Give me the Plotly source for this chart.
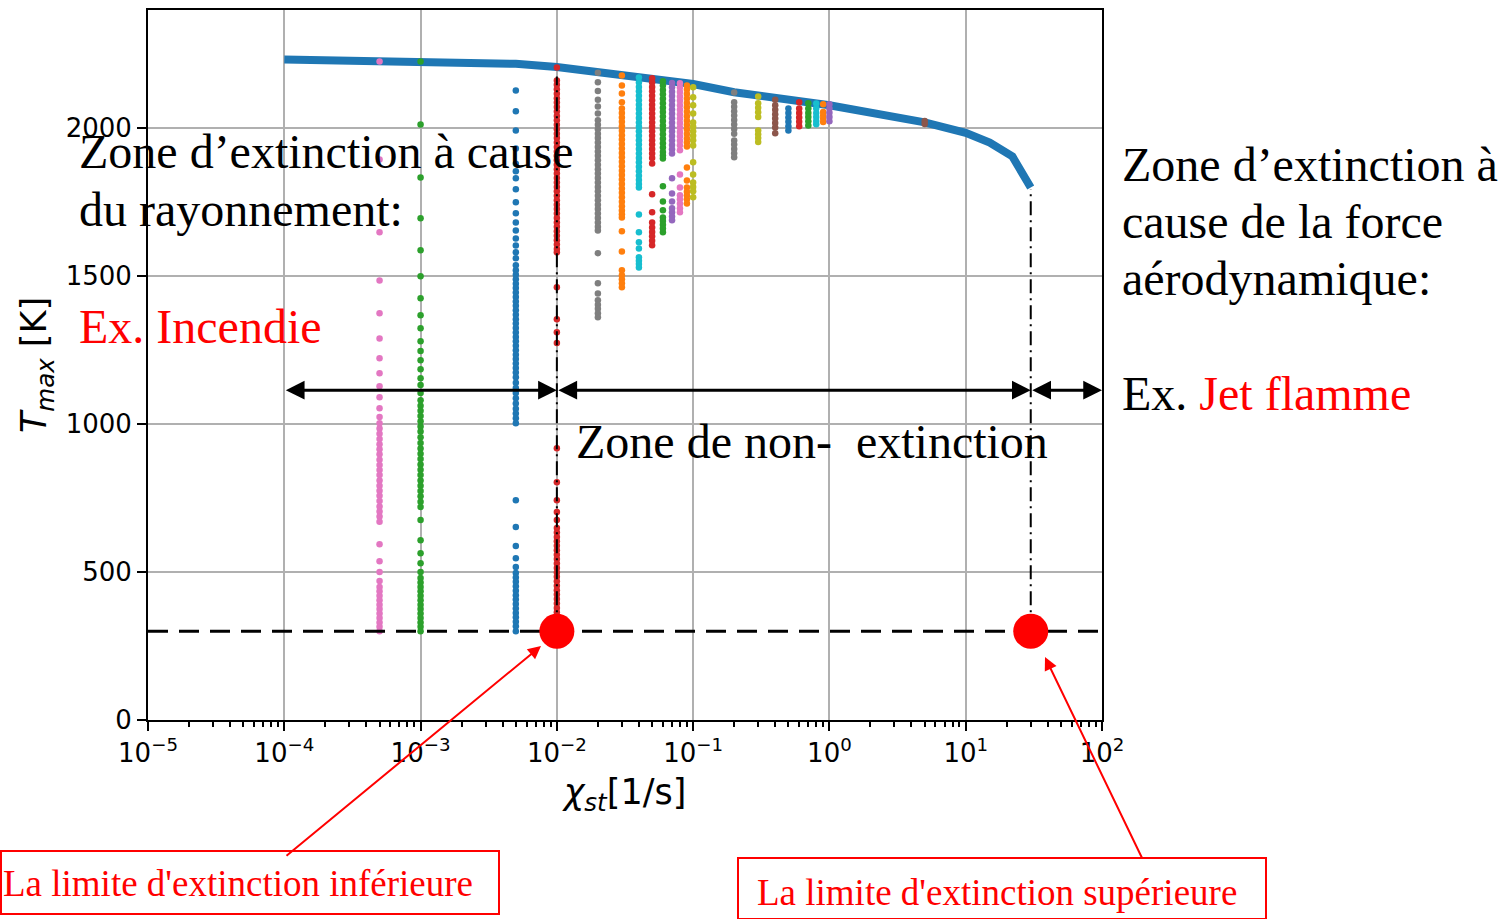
import math
import plotly.graph_objects as go

# ---------------- data ----------------
# Upper branch (steady flamelet) maximum temperature
line_chi = [1e-4, 1e-3, 2e-3, 5e-3, 1e-2, 2e-2, 5e-2, 0.1, 0.2, 0.5, 1.0, 5.0, 10.0, 15.0, 22.0, 30.0]
line_T = [2233, 2228, 2225, 2218, 2207, 2189, 2168, 2150, 2122, 2095, 2078, 2020, 1985, 1952, 1905, 1800]

# Transient extinction histories: one column of Tmax values per chi_st
T_5e_4 = [2226, 1895, 1649, 1486, 1375, 1290, 1223, 1172, 1128, 1091, 1054, 1024,
          1003, 985, 968, 950, 932, 915, 898, 880, 862, 845, 828, 810, 792, 775, 758, 740, 722, 705, 688, 670,
          594, 537, 500, 470, 450, 435, 420, 405, 390, 375, 360, 345, 330, 315, 300]
T_1e_3 = [2226, 2013, 1834, 1696, 1588, 1500, 1426, 1368, 1324, 1280, 1247, 1216, 1186, 1155, 1132, 1105,
          1081, 1062, 1045, 1028, 1010, 992, 975, 956,
          936, 918, 900, 882, 864, 846, 828, 810, 792, 774, 756, 738, 720,
          676, 608, 564, 530, 500, 480, 465, 450, 435, 420, 405, 390, 375, 360, 345, 330, 315, 300]
T_5e_3 = [2128, 2058, 1993, 1932, 1880, 1855, 1831, 1794, 1750, 1713, 1682, 1655, 1628, 1604, 1581, 1561, 1537,
          1520, 1505, 1490, 1475, 1460, 1445, 1430, 1415, 1400, 1385, 1370, 1355, 1340, 1325, 1310, 1295,
          1280, 1265, 1250, 1235, 1220, 1205, 1190, 1175, 1159, 1140, 1122, 1105, 1088, 1070, 1052, 1036,
          1020, 1003, 743, 652, 588, 547, 517, 497, 482, 467, 452, 437, 422, 407, 392, 377, 362, 347, 332,
          317, 300]
T_1e_2 = [2206, 2162, 2147, 2132, 2117, 2102, 2087, 2072, 2057, 2042, 2027, 2012, 1997, 1982, 1967, 1952,
          1937, 1922, 1907, 1892, 1877, 1862, 1847, 1832, 1817, 1802, 1787, 1772, 1757, 1742, 1727, 1712,
          1697, 1682, 1667, 1652, 1637, 1622, 1607, 1592, 1581, 1463, 1355, 1311, 1274, 919, 804, 743, 703,
          676, 649, 634, 619, 604, 589, 574, 559, 544, 529, 514, 499, 484, 469, 454, 439, 424, 409, 394,
          379, 364, 349, 334, 319, 305]
T_2e_2 = [2188, 2156, 2126, 2097, 2074, 2050, 2027, 2012, 1997, 1982, 1967, 1952, 1937, 1922, 1907, 1892,
          1877, 1862, 1847, 1832, 1817, 1802, 1787, 1772, 1757, 1742, 1727, 1712, 1697, 1682, 1667, 1655,
          1578, 1476, 1442, 1419, 1404, 1390, 1375, 1361]
T_3e_2 = [2179, 2145, 2118, 2088, 2067, 2052, 2037, 2022, 2007, 1992, 1977, 1962, 1947, 1932, 1917, 1902,
          1887, 1872, 1857, 1842, 1827, 1812, 1797, 1782, 1767, 1752, 1737, 1722, 1710, 1699, 1652, 1584,
          1520, 1503, 1490, 1476, 1463]
T_4e_2 = [2172, 2155, 2140, 2125, 2110, 2095, 2080, 2065, 2050, 2035, 2020, 2005, 1990, 1975, 1960, 1945,
          1930, 1915, 1900, 1885, 1870, 1855, 1840, 1825, 1812, 1800, 1709, 1649, 1615, 1594, 1564, 1552,
          1541, 1530]
T_5e_2 = [2169, 2155, 2140, 2125, 2110, 2095, 2080, 2065, 2050, 2035, 2020, 2005, 1990, 1975, 1960, 1945,
          1930, 1915, 1900, 1881, 1777, 1716, 1682, 1665, 1650, 1635, 1620, 1605]
T_6e_2 = [2159, 2145, 2130, 2115, 2100, 2085, 2070, 2055, 2040, 2025, 2010, 1995, 1980, 1965, 1950, 1935,
          1920, 1908, 1898, 1804, 1753, 1723, 1699, 1687, 1674, 1661, 1649]
T_7e_2 = [2153, 2139, 2124, 2109, 2094, 2079, 2064, 2049, 2034, 2019, 2004, 1989, 1974, 1959, 1944, 1929,
          1915, 1831, 1780, 1753, 1730, 1716, 1702, 1689]
T_8e_2 = [2152, 2138, 2123, 2108, 2093, 2078, 2063, 2048, 2033, 2018, 2003, 1988, 1973, 1958, 1943, 1926,
          1844, 1800, 1774, 1760, 1745, 1730, 1716]
T_9e_2 = [2145, 2131, 2116, 2101, 2086, 2071, 2056, 2041, 2026, 2011, 1996, 1981, 1966, 1952, 1939, 1868,
          1824, 1800, 1786, 1773, 1760, 1746]
T_1e_1 = [2139, 2105, 2078, 2050, 2020, 2005, 1990, 1975, 1960, 1942, 1885, 1844, 1817, 1802, 1787, 1767]
T_2e_1 = [2121, 2088, 2073, 2058, 2043, 2028, 2013, 1998, 1982, 1959, 1945, 1930, 1916, 1902]
T_3e_1 = [2108, 2085, 2070, 2054, 2038, 1993, 1980, 1967, 1954]
T_4e_1 = [2097, 2078, 2063, 2048, 2033, 2018, 2003, 1983]
T_5e_1 = [2067, 2052, 2037, 2022, 2007, 1993]
T_6e_1 = [2088, 2067, 2052, 2037, 2022, 2007]
T_7e_1 = [2085, 2067, 2052, 2038, 2024, 2010]
T_8e_1 = [2084, 2067, 2052, 2038, 2025, 2014]
T_9e_1 = [2081, 2055, 2044, 2033, 2021]
T_1e0 = [2081, 2067, 2053, 2038, 2024]
T_5e0 = [2025, 2015]

col_chi = [5e-4, 1e-3, 5e-3, 1e-2, 2e-2, 3e-2, 4e-2, 5e-2, 6e-2, 7e-2, 8e-2, 9e-2, 0.1,
           0.2, 0.3, 0.4, 0.5, 0.6, 0.7, 0.8, 0.9, 1.0, 5.0]
col_T = [T_5e_4, T_1e_3, T_5e_3, T_1e_2, T_2e_2, T_3e_2, T_4e_2, T_5e_2, T_6e_2, T_7e_2, T_8e_2,
         T_9e_2, T_1e_1, T_2e_1, T_3e_1, T_4e_1, T_5e_1, T_6e_1, T_7e_1, T_8e_1, T_9e_1, T_1e0, T_5e0]
col_color = ["#e377c2", "#2ca02c", "#1f77b4", "#d62728", "#7f7f7f", "#ff7f0e", "#17becf", "#d62728",
             "#2ca02c", "#9467bd", "#e377c2", "#ff7f0e", "#bcbd22", "#7f7f7f", "#bcbd22", "#8c564b",
             "#1f77b4", "#d62728", "#2ca02c", "#17becf", "#ff7f0e", "#9467bd", "#8c564b"]

T_ambient = 300
chi_ext_low = 1e-2
chi_ext_high = 30.0
T_top_low = 2175
T_top_high = 1795
arrow_T = 1115

x_tickvals = [1e-5, 1e-4, 1e-3, 1e-2, 1e-1, 1e0, 1e1, 1e2]
x_ticktext = ["10<sup>−5</sup>", "10<sup>−4</sup>", "10<sup>−3</sup>", "10<sup>−2</sup>",
              "10<sup>−1</sup>", "10<sup>0</sup>", "10<sup>1</sup>", "10<sup>2</sup>"]
y_tickvals = [0, 500, 1000, 1500, 2000]
minor_vals = [m * 10.0 ** k for k in range(-5, 2) for m in range(2, 10)]

# ---------------- figure ----------------
W, H = 1511, 919
L, R, T, B = 148, 409, 10, 199
PW, PH = W - L - R, H - T - B


def px(xp):
    return (xp - L) / PW


def py(yp):
    return (H - B - yp) / PH


fig = go.Figure()

fig.add_trace(go.Scatter(x=line_chi, y=line_T, mode="lines",
                         line=dict(color="#1f77b4", width=8), hoverinfo="skip"))

for chi, Ts, c in zip(col_chi, col_T, col_color):
    fig.add_trace(go.Scatter(x=[chi] * len(Ts), y=Ts, mode="markers",
                             marker=dict(color=c, size=6.5, line=dict(width=0))))

fig.add_trace(go.Scatter(x=[1e-5, 1e2], y=[T_ambient, T_ambient], mode="lines",
                         line=dict(color="black", width=3, dash="20px,11px")))
fig.add_trace(go.Scatter(x=[chi_ext_low, chi_ext_low], y=[T_ambient, T_top_low], mode="lines",
                         line=dict(color="black", width=2, dash="14px,5px,2px,5px")))
fig.add_trace(go.Scatter(x=[chi_ext_high, chi_ext_high], y=[T_ambient, T_top_high], mode="lines",
                         line=dict(color="black", width=2, dash="14px,5px,2px,5px")))
fig.add_trace(go.Scatter(x=[chi_ext_low, chi_ext_high], y=[T_ambient, T_ambient], mode="markers",
                         marker=dict(color="#ff0000", size=35, line=dict(width=0))))

tickfont = dict(family="DejaVu Sans", size=26, color="black")
fig.update_xaxes(type="log", range=[-5, 2], tickvals=x_tickvals, ticktext=x_ticktext,
                 ticks="outside", ticklen=9, tickwidth=2, tickcolor="black",
                 showline=True, linecolor="black", linewidth=2, mirror=True,
                 showgrid=True, gridcolor="#b0b0b0", gridwidth=2, zeroline=False,
                 tickfont=tickfont,
                 minor=dict(tickmode="array", tickvals=minor_vals, ticks="outside", ticklen=5,
                            tickwidth=1.5, tickcolor="black", showgrid=False),
                 title=dict(text="<i>χ</i><sub><i>st</i></sub>[1/s]",
                            font=dict(family="DejaVu Sans", size=35, color="black"), standoff=12))
fig.update_yaxes(range=[0, 2400], tickvals=y_tickvals,
                 ticks="outside", ticklen=9, tickwidth=2, tickcolor="black",
                 showline=True, linecolor="black", linewidth=2, mirror=True,
                 showgrid=True, gridcolor="#b0b0b0", gridwidth=2, zeroline=False,
                 tickfont=tickfont,
                 title=dict(text="<i>T</i><sub><i>max</i></sub> [K]",
                            font=dict(family="DejaVu Sans", size=35, color="black"), standoff=8))

annotations = []

# black double-headed arrows
for a, b in [(1e-4, chi_ext_low), (chi_ext_low, chi_ext_high), (chi_ext_high, 1e2)]:
    annotations.append(dict(x=math.log10(b), y=arrow_T, ax=math.log10(a), ay=arrow_T,
                            xref="x", yref="y", axref="x", ayref="y", text="",
                            showarrow=True, arrowhead=2, arrowside="end+start",
                            arrowsize=1.25, arrowwidth=3, arrowcolor="black"))

serif = "Liberation Serif"


def txt(s, xp, yp, size=48, color="black"):
    annotations.append(dict(text=s, x=px(xp), y=py(yp), xref="paper", yref="paper",
                            xanchor="left", yanchor="middle", showarrow=False, borderpad=0,
                            font=dict(family=serif, size=size, color=color)))


txt("Zone d’extinction à cause", 78, 152)
txt("du rayonnement:", 78, 210)
txt("Ex. Incendie", 78, 326, color="#ff0000")
txt("Zone de non-\u00a0\u00a0extinction", 575, 441)
txt("Zone d’extinction à", 1121, 164)
txt("cause de la force", 1121, 221)
txt("aérodynamique:", 1121, 278)
txt("Ex. <span style='color:#ff0000'>Jet flamme</span>", 1121, 394)
txt("La limite d'extinction inférieure", 2, 884, size=37, color="#ff0000")
txt("La limite d'extinction supérieure", 756, 892, size=37, color="#ff0000")

# red pointer arrows
annotations.append(dict(x=px(541), y=py(646), xref="paper", yref="paper", ax=285 - 541, ay=857 - 646,
                        text="", showarrow=True, arrowhead=2, arrowsize=1.3, arrowwidth=2,
                        arrowcolor="#ff0000"))
annotations.append(dict(x=px(1045), y=py(657), xref="paper", yref="paper", ax=1143 - 1045, ay=860 - 657,
                        text="", showarrow=True, arrowhead=2, arrowsize=1.3, arrowwidth=2,
                        arrowcolor="#ff0000"))

shapes = [
    dict(type="rect", xref="paper", yref="paper", x0=px(1), x1=px(499), y0=py(914), y1=py(851),
         line=dict(color="#ff0000", width=2)),
    dict(type="rect", xref="paper", yref="paper", x0=px(738), x1=px(1266), y0=py(919), y1=py(858),
         line=dict(color="#ff0000", width=2)),
]

fig.update_layout(width=W, height=H, margin=dict(l=L, r=R, t=T, b=B, autoexpand=False),
                  plot_bgcolor="white", paper_bgcolor="white", showlegend=False,
                  annotations=annotations, shapes=shapes)

fig.write_html("out.html")
